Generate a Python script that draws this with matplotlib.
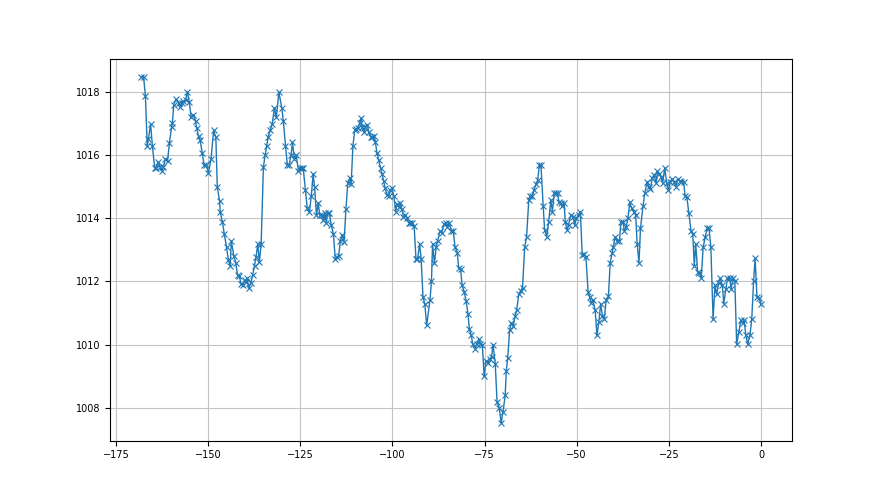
import matplotlib
matplotlib.use("Agg")
import matplotlib.pyplot as plt

# hours relative to now
hours = [
    -168.2, -167.5, -167.0, -166.5, -166.2, -165.6, -165.1, -164.5, -164.1, -163.5,
    -163.0, -162.6, -162.1, -161.6, -161.0, -160.5, -159.9, -159.7, -159.3, -158.7,
    -158.0, -157.5, -157.1, -156.7, -156.1, -155.6, -155.1, -154.6, -154.0, -153.4,
    -153.1, -152.6, -152.2, -151.6, -151.1, -150.5, -149.9, -149.2, -148.5, -147.9,
    -147.5, -146.9, -146.7, -146.1, -145.6, -145.0, -144.5, -144.0, -143.7, -143.0,
    -142.5, -142.0, -141.5, -141.1, -140.6, -140.1, -139.8, -139.5, -139.0, -138.4,
    -137.9, -137.4, -137.0, -136.5, -136.1, -135.6, -135.0, -134.5, -134.1, -133.7,
    -133.1, -132.6, -132.0, -131.5, -130.8, -130.0, -129.6, -129.0, -128.5, -128.0,
    -127.5, -127.1, -126.6, -126.1, -125.5, -125.1, -124.6, -124.2, -123.6, -123.1,
    -122.5, -122.0, -121.5, -121.1, -120.6, -120.1, -119.7, -119.2, -118.7, -118.3,
    -117.9, -117.6, -117.1, -116.6, -116.0, -115.5, -115.0, -114.6, -114.1, -113.6,
    -113.1, -112.6, -112.1, -111.6, -111.2, -110.7, -110.2, -109.9, -109.4, -108.9,
    -108.5, -108.2, -107.7, -107.3, -106.8, -106.4, -105.9, -105.4, -104.9, -104.6,
    -104.2, -103.7, -103.2, -102.8, -102.4, -102.0, -101.5, -101.0, -100.6, -100.1,
    -99.6, -99.1, -98.8, -98.3, -97.9, -97.4, -97.0, -96.5, -96.1, -95.5,
    -95.1, -94.6, -94.1, -93.6, -93.2, -92.6, -92.2, -91.7, -91.2, -90.7,
    -89.8, -89.4, -89.1, -88.6, -88.1, -87.7, -87.1, -86.6, -86.0, -85.5,
    -85.1, -84.6, -84.0, -83.5, -83.0, -82.4, -82.0, -81.5, -81.1, -80.5,
    -80.0, -79.5, -79.1, -78.6, -78.2, -77.6, -77.1, -76.6, -76.1, -75.6,
    -75.1, -74.6, -74.0, -73.6, -73.1, -72.7, -72.1, -71.6, -71.0, -70.5,
    -70.0, -69.4, -69.1, -68.7, -68.2, -67.7, -67.2, -66.7, -66.3, -65.7,
    -65.2, -64.7, -64.1, -63.6, -63.0, -62.6, -62.0, -61.6, -61.0, -60.6,
    -60.1, -59.7, -59.1, -58.7, -58.1, -57.6, -57.0, -56.6, -56.1, -55.7,
    -55.2, -54.8, -54.3, -53.9, -53.4, -53.1, -52.6, -52.2, -51.6, -51.0,
    -50.5, -50.1, -49.5, -49.0, -48.5, -48.1, -47.5, -46.9, -46.5, -46.0,
    -45.6, -45.0, -44.5, -44.0, -43.5, -43.0, -42.5, -42.0, -41.4, -40.9,
    -40.4, -40.1, -39.6, -39.0, -38.4, -38.0, -37.4, -37.1, -36.6, -36.1,
    -35.6, -35.1, -34.5, -34.0, -33.6, -33.1, -32.7, -32.0, -31.5, -30.9,
    -30.4, -30.0, -29.5, -29.0, -28.4, -28.1, -27.6, -27.1, -26.7, -26.1,
    -25.6, -25.1, -24.6, -24.1, -23.6, -23.1, -22.5, -22.1, -21.6, -21.0,
    -20.6, -20.1, -19.6, -19.0, -18.5, -18.1, -17.7, -17.2, -16.8, -16.2,
    -15.7, -15.1, -14.6, -14.1, -13.6, -13.0, -12.5, -12.0, -11.5, -11.1,
    -10.5, -10.1, -9.5, -9.1, -8.5, -8.1, -7.6, -7.1, -6.6, -6.0,
    -5.5, -5.0, -4.6, -4.1, -3.6, -3.0, -2.5, -2.0, -1.6, -1.1,
    -0.6, 0.0,
]

# pressure (hPa)
pressure = [
    1018.48, 1018.48, 1017.86, 1016.28, 1016.50, 1016.98, 1016.28, 1015.60, 1015.60, 1015.78,
    1015.62, 1015.50, 1015.62, 1015.87, 1015.80, 1016.38, 1016.90, 1017.00, 1017.60, 1017.76,
    1017.65, 1017.51, 1017.65, 1017.70, 1017.74, 1018.00, 1017.67, 1017.20, 1017.28, 1017.07,
    1016.86, 1016.59, 1016.49, 1016.08, 1015.69, 1015.69, 1015.43, 1015.88, 1016.78, 1016.57,
    1014.98, 1014.56, 1014.19, 1013.87, 1013.50, 1013.08, 1012.68, 1012.50, 1013.28, 1012.80,
    1012.59, 1012.20, 1012.17, 1011.92, 1011.88, 1012.04, 1011.97, 1012.10, 1011.79, 1011.96,
    1012.20, 1012.50, 1012.78, 1013.19, 1012.60, 1013.19, 1015.62, 1016.01, 1016.28, 1016.57,
    1016.80, 1016.99, 1017.49, 1017.19, 1017.99, 1017.49, 1017.09, 1016.30, 1015.69, 1015.69,
    1016.00, 1016.40, 1015.87, 1016.00, 1015.51, 1015.59, 1015.59, 1015.59, 1014.90, 1014.32,
    1014.21, 1014.71, 1015.40, 1014.98, 1014.10, 1014.48, 1014.10, 1014.10, 1013.95, 1014.16,
    1013.84, 1014.18, 1014.16, 1013.79, 1013.50, 1012.71, 1012.76, 1012.80, 1013.28, 1013.47,
    1013.26, 1014.30, 1015.11, 1015.27, 1015.08, 1016.30, 1016.78, 1016.83, 1016.86, 1017.01,
    1017.17, 1016.89, 1016.72, 1016.89, 1016.96, 1016.72, 1016.57, 1016.56, 1016.59, 1016.40,
    1016.08, 1015.85, 1015.58, 1015.41, 1015.19, 1014.97, 1014.74, 1014.71, 1014.88, 1014.95,
    1014.69, 1014.21, 1014.45, 1014.37, 1014.47, 1014.28, 1014.03, 1014.10, 1014.00, 1013.86,
    1013.86, 1013.86, 1013.76, 1012.70, 1012.70, 1013.18, 1012.70, 1011.51, 1011.28, 1010.61,
    1011.41, 1012.01, 1013.18, 1012.57, 1013.10, 1013.29, 1013.58, 1013.54, 1013.82, 1013.86,
    1013.71, 1013.86, 1013.61, 1013.61, 1013.08, 1012.91, 1012.41, 1012.39, 1011.88, 1011.67,
    1011.38, 1010.98, 1010.48, 1010.29, 1010.01, 1009.87, 1010.03, 1010.17, 1010.03, 1010.00,
    1008.99, 1009.48, 1009.41, 1009.55, 1009.60, 1010.00, 1009.40, 1008.18, 1007.99, 1007.51,
    1007.86, 1008.39, 1009.16, 1009.59, 1010.47, 1010.69, 1010.60, 1010.90, 1011.09, 1011.60,
    1011.70, 1011.80, 1013.10, 1013.40, 1014.58, 1014.69, 1014.71, 1014.90, 1015.09, 1015.20,
    1015.69, 1015.69, 1014.39, 1013.63, 1013.42, 1013.89, 1014.58, 1014.21, 1014.79, 1014.81,
    1014.79, 1014.50, 1014.47, 1014.39, 1014.47, 1013.89, 1013.63, 1013.79, 1014.10, 1014.03,
    1013.79, 1014.00, 1014.10, 1014.21, 1012.83, 1012.86, 1012.78, 1011.67, 1011.51, 1011.32,
    1011.41, 1011.10, 1010.29, 1010.72, 1011.28, 1010.90, 1010.82, 1011.41, 1011.53, 1012.59,
    1012.89, 1013.08, 1013.40, 1013.29, 1013.28, 1013.89, 1013.89, 1013.60, 1013.71, 1014.00,
    1014.50, 1014.32, 1014.21, 1014.10, 1013.18, 1012.59, 1013.68, 1014.39, 1014.81, 1015.16,
    1015.00, 1014.92, 1015.27, 1015.37, 1015.11, 1015.48, 1015.41, 1015.32, 1015.11, 1015.59,
    1015.13, 1014.88, 1015.16, 1015.24, 1015.16, 1015.00, 1015.24, 1015.19, 1015.16, 1015.16,
    1014.71, 1014.66, 1014.18, 1013.61, 1013.49, 1012.49, 1013.19, 1012.31, 1012.28, 1012.12,
    1013.08, 1013.42, 1013.68, 1013.68, 1013.08, 1010.80, 1011.88, 1011.60, 1011.96, 1012.10,
    1011.88, 1011.30, 1011.77, 1012.10, 1012.10, 1011.77, 1012.10, 1012.00, 1010.01, 1010.40,
    1010.77, 1010.69, 1010.77, 1010.29, 1010.01, 1010.29, 1010.82, 1012.02, 1012.73, 1011.51,
    1011.49, 1011.28,
]

fig, ax = plt.subplots(figsize=(8.8, 4.95), dpi=100)
ax.plot(hours, pressure, marker="x", markersize=4, markeredgewidth=0.8,
        linewidth=1.0, color="#1f77b4")
ax.grid(True, color="#c4c4c4", linewidth=0.8)
ax.tick_params(labelsize=7)
fig.savefig("out.png", dpi=100)
